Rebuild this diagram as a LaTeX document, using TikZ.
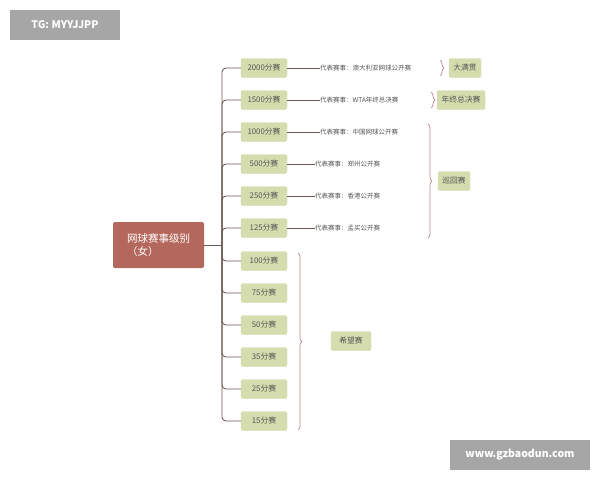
\documentclass[tikz,border=0pt]{standalone}
\usepackage{fontspec}
\setmainfont{Noto Sans CJK SC}
\usetikzlibrary{decorations.pathreplacing}
\definecolor{leaf}{HTML}{D5DCAE}
\definecolor{rootc}{HTML}{B4675C}
\definecolor{txt}{HTML}{555555}
\definecolor{lnc}{HTML}{6E5A55}
\definecolor{brc}{HTML}{B88A8A}
\tikzset{
 leafbox/.style={fill=leaf,draw=leaf,rounded corners=1.5pt,minimum width=46pt,minimum height=19pt,font=\fontsize{7.8}{8}\selectfont,text=txt,inner sep=1pt},
 desc/.style={font=\fontsize{6.5}{7}\selectfont,text=txt,anchor=west,inner sep=0pt},
 conn/.style={draw=lnc,line width=0.9pt},
 brace/.style={draw=brc,line width=0.7pt,decorate,decoration={brace,amplitude=4pt}},
 wm/.style={fill=gray!70,text=white,font=\fontsize{10.5}{12}\selectfont\bfseries}
}
\begin{document}
\begin{tikzpicture}[x=1pt,y=-1pt]
\useasboundingbox (0,0) rectangle (600,480);
\fill[white] (0,0) rectangle (600,480);
\node[wm,minimum width=110pt,minimum height=30pt] (w1) at (65,25) {TG: MYYJJPP};
\node[wm,minimum width=140pt,minimum height=30pt] (w2) at (520,455) {www.gzbaodun.com};
\node[fill=rootc,rounded corners=2pt,minimum width=91pt,minimum height=46pt,text=white,font=\fontsize{10.5}{12.5}\selectfont,align=left] (root) at (158.5,245) {网球赛事级别\\（女）};
\coordinate (tr) at (222,245);
\draw[conn] (root.east) -- (tr);
\foreach \n/\y/\t in {a/68/2000分赛,b/100/1500分赛,c/132/1000分赛,d/164/500分赛,e/196/250分赛,f/228/125分赛,g/261/100分赛,h/293/75分赛,i/325/50分赛,j/357/35分赛,k/389/25分赛,l/421/15分赛}{
 \node[leafbox] (\n) at (264,\y) {\t};
 \draw[conn,rounded corners=4pt] (tr) -- (222,\y) -- (\n.west);
}
\node[desc] (da) at (320,68) {代表赛事：澳大利亚网球公开赛};
\node[desc] (db) at (320,100) {代表赛事：WTA年终总决赛};
\node[desc] (dc) at (320,132) {代表赛事：中国网球公开赛};
\node[desc] (dd) at (315,164) {代表赛事：郑州公开赛};
\node[desc] (de) at (315,196) {代表赛事：香港公开赛};
\node[desc] (df) at (315,228) {代表赛事：孟买公开赛};
\foreach \a in {a,b,c,d,e,f}{\draw[conn,line width=0.7pt] (\a.east) -- (d\a.west);}
\node[leafbox,minimum width=32pt] (g1) at (465,68) {大满贯};
\node[leafbox,minimum width=48pt] (g2) at (461,100) {年终总决赛};
\node[leafbox,minimum width=32pt] (g3) at (454,181) {巡回赛};
\node[leafbox,minimum width=40pt] (g4) at (351,341) {希望赛};
\draw[brace] (440,60) -- (440,76);
\draw[brace] (431,92) -- (431,108);
\draw[brace] (428,124) -- (428,238);
\draw[brace] (298,253) -- (298,430);
\end{tikzpicture}
\end{document}
